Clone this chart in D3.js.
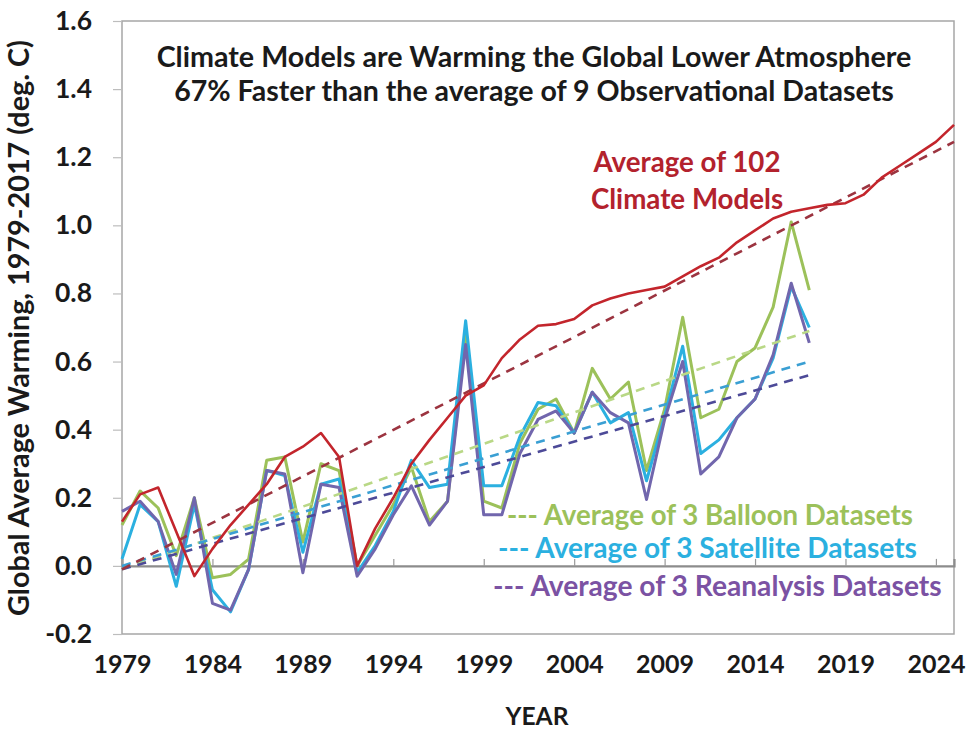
<!DOCTYPE html>
<html>
<head>
<meta charset="utf-8">
<script src="https://cdn.jsdelivr.net/npm/d3@7"></script>
<style>
  body { margin: 0; background: #fff; }
  svg { font-family: Lato, "Open Sans", sans-serif; font-weight: bold; }
</style>
</head>
<body>
<div id="chart-container"></div>
<script>
const obsYears = d3.range(1979, 2018);
const modelYears = d3.range(1979, 2026);

const balloon = [0.12, 0.22, 0.17, 0.03, 0.20, -0.035, -0.025, 0.02, 0.31, 0.32,
  0.07, 0.30, 0.28, 0.00, 0.09, 0.18, 0.29, 0.13, 0.19, 0.68,
  0.19, 0.17, 0.36, 0.46, 0.49, 0.39, 0.58, 0.49, 0.54, 0.28,
  0.46, 0.73, 0.435, 0.46, 0.60, 0.64, 0.76, 1.01, 0.81];

const satellite = [0.02, 0.18, 0.13, -0.06, 0.18, -0.07, -0.135, -0.01, 0.28, 0.265,
  0.04, 0.24, 0.255, -0.02, 0.06, 0.16, 0.31, 0.23, 0.24, 0.72,
  0.235, 0.235, 0.38, 0.48, 0.47, 0.39, 0.51, 0.42, 0.45, 0.25,
  0.44, 0.645, 0.33, 0.37, 0.435, 0.49, 0.61, 0.82, 0.70];

const reanalysis = [0.16, 0.19, 0.13, -0.025, 0.20, -0.11, -0.13, -0.01, 0.28, 0.27,
  -0.02, 0.24, 0.23, -0.03, 0.05, 0.15, 0.235, 0.12, 0.19, 0.65,
  0.15, 0.15, 0.33, 0.43, 0.455, 0.39, 0.51, 0.45, 0.42, 0.195,
  0.43, 0.60, 0.27, 0.32, 0.435, 0.49, 0.62, 0.83, 0.655];

const models = [0.13, 0.21, 0.23, 0.10, -0.03, 0.05, 0.12, 0.18, 0.24, 0.32,
  0.35, 0.39, 0.32, 0.00, 0.11, 0.20, 0.30, 0.37, 0.435, 0.50,
  0.53, 0.61, 0.665, 0.705, 0.71, 0.725, 0.765, 0.785, 0.80, 0.81,
  0.82, 0.85, 0.88, 0.905, 0.95, 0.985, 1.02, 1.04, 1.05, 1.06,
  1.065, 1.09, 1.14, 1.175, 1.21, 1.245, 1.295];

// trend lines: [start year, start value, end year, end value]
const modelTrend = [1979, -0.01, 2025, 1.245];
const balloonTrend = [1979, -0.01, 2017, 0.69];
const satelliteTrend = [1979, 0.0, 2017, 0.60];
const reanalysisTrend = [1979, -0.01, 2017, 0.56];

const yTicks = [-0.2, 0.0, 0.2, 0.4, 0.6, 0.8, 1.0, 1.2, 1.4, 1.6];
const xTicks = [1979, 1984, 1989, 1994, 1999, 2004, 2009, 2014, 2019, 2024];

const titleLines = ["Climate Models are Warming the Global Lower Atmosphere",
  "67% Faster than the average of 9 Observational Datasets"];
const modelLabel = ["Average of 102", "Climate Models"];
const legendLabels = ["--- Average of 3 Balloon Datasets",
  "--- Average of 3 Satellite Datasets",
  "--- Average of 3 Reanalysis Datasets"];

const colors = {
  model: "#c3252c",
  modelText: "#b3222d",
  modelTrend: "#9c3440",
  balloon: "#9cc15a",
  balloonTrend: "#b9d886",
  satellite: "#2bb0e0",
  satelliteTrend: "#3a9fd3",
  reanalysis: "#7166ad",
  reanalysisTrend: "#4d4a98",
  reanalysisText: "#7b52a3"
};

const width = 969;
const height = 731;
const plot = { left: 122, right: 954, top: 21, bottom: 634 };

const svg = d3.select("#chart-container")
  .append("svg")
  .attr("width", width)
  .attr("height", height);

const x = d3.scaleLinear().domain([1979, 2025]).range([plot.left, plot.right]);
const y = d3.scaleLinear().domain([-0.2, 1.6]).range([plot.bottom, plot.top]);

// shrink/grow a text so it spans the width it has in the picture
function fit(sel, target) {
  const w = sel.node().getComputedTextLength();
  const fs = parseFloat(sel.attr("font-size"));
  const size = +(fs * target / w).toFixed(2);
  sel.attr("font-size", size);
  return size;
}

// plot frame
svg.append("rect")
  .attr("x", plot.left)
  .attr("y", plot.top)
  .attr("width", plot.right - plot.left)
  .attr("height", plot.bottom - plot.top)
  .attr("fill", "#fff")
  .attr("stroke", "#a6a6a6")
  .attr("stroke-width", 1.5);

// y axis, ticks outside
const yAxis = svg.append("g")
  .attr("transform", `translate(${plot.left},0)`)
  .call(d3.axisLeft(y).tickValues(yTicks).tickFormat(d3.format(".1f")).tickSize(9).tickPadding(21));
yAxis.select(".domain").remove();
yAxis.selectAll(".tick line").attr("stroke", "#bdbdbd").attr("stroke-width", 1.2);
const yText = yAxis.selectAll("text")
  .attr("font-size", 20)
  .attr("font-weight", "bold")
  .attr("font-family", "Lato")
  .attr("fill", "#1a1a1a")
  .text((d) => d3.format(".1f")(d).replace("−", "-"));
yText.attr("font-size", fit(yText.filter((d) => d === 1.6), 37));

// zero line with upward ticks
const xAxis = svg.append("g")
  .attr("transform", `translate(0,${y(0)})`)
  .call(d3.axisTop(x).tickValues(xTicks).tickSize(7).tickFormat(""));
xAxis.select(".domain").attr("stroke", "#8c8c8c").attr("stroke-width", 2.2);
xAxis.selectAll(".tick line").attr("stroke", "#9a9a9a").attr("stroke-width", 1.2);

// year labels along the bottom
const xLabels = svg.append("g")
  .attr("transform", `translate(0,${plot.bottom})`)
  .call(d3.axisBottom(x).tickValues(xTicks).tickFormat(d3.format("d")).tickSize(0).tickPadding(30));
xLabels.select(".domain").remove();
const xText = xLabels.selectAll("text")
  .attr("font-size", 20)
  .attr("font-weight", "bold")
  .attr("font-family", "Lato")
  .attr("fill", "#1a1a1a")
  .attr("dy", "0.35em");
xText.attr("font-size", fit(xText.filter((d) => d === 1999), 58));

const line = d3.line().x((d) => x(d[0])).y((d) => y(d[1]));

function series(years, values, color, w) {
  svg.append("path")
    .datum(years.map((yr, i) => [yr, values[i]]))
    .attr("fill", "none")
    .attr("stroke", color)
    .attr("stroke-width", w)
    .attr("stroke-linejoin", "round")
    .attr("d", line);
}

function trend(t, color) {
  svg.append("path")
    .datum([[t[0], t[1]], [t[2], t[3]]])
    .attr("fill", "none")
    .attr("stroke", color)
    .attr("stroke-width", 2.6)
    .attr("stroke-dasharray", "9,7")
    .attr("d", line);
}

series(obsYears, balloon, colors.balloon, 3);
series(obsYears, satellite, colors.satellite, 3);
series(obsYears, reanalysis, colors.reanalysis, 3);

trend(balloonTrend, colors.balloonTrend);
trend(satelliteTrend, colors.satelliteTrend);
trend(reanalysisTrend, colors.reanalysisTrend);
trend(modelTrend, colors.modelTrend);

series(modelYears, models, colors.model, 2.6);

// title
const title = svg.append("g").attr("fill", "#1a1a1a");
[[titleLines[0], 67, 755], [titleLines[1], 101, 720]].forEach(([t, yy, w]) => {
  const tx = title.append("text")
    .attr("x", 534)
    .attr("y", yy)
    .attr("text-anchor", "middle")
    .attr("font-size", 24)
    .text(t);
  fit(tx, w);
});

// model annotation, both lines at one size
const modelText = svg.append("g")
  .attr("fill", colors.modelText)
  .attr("text-anchor", "middle");
const m1 = modelText.append("text")
  .attr("x", 687).attr("y", 172)
  .attr("font-size", 23)
  .text(modelLabel[0]);
const mSize = fit(m1, 187);
modelText.append("text")
  .attr("x", 687).attr("y", 209)
  .attr("font-size", mSize)
  .text(modelLabel[1]);

// legend
[[legendLabels[0], 507, 525, 406, colors.balloon],
 [legendLabels[1], 498, 558, 419, colors.satellite],
 [legendLabels[2], 493, 596, 449, colors.reanalysisText]].forEach(([t, xx, yy, w, c]) => {
  const tx = svg.append("text")
    .attr("x", xx)
    .attr("y", yy)
    .attr("fill", c)
    .attr("font-size", 23)
    .text(t);
  fit(tx, w);
});

// axis titles
const yTitle = svg.append("text")
  .attr("transform", "translate(29,328) rotate(-90)")
  .attr("text-anchor", "middle")
  .attr("fill", "#1a1a1a")
  .attr("font-size", 21)
  .text("Global Average Warming, 1979-2017 (deg. C)");
fit(yTitle, 576);

const yearTitle = svg.append("text")
  .attr("x", 537)
  .attr("y", 725)
  .attr("text-anchor", "middle")
  .attr("fill", "#1a1a1a")
  .attr("font-size", 19)
  .text("YEAR");
fit(yearTitle, 63);
</script>
</body>
</html>
